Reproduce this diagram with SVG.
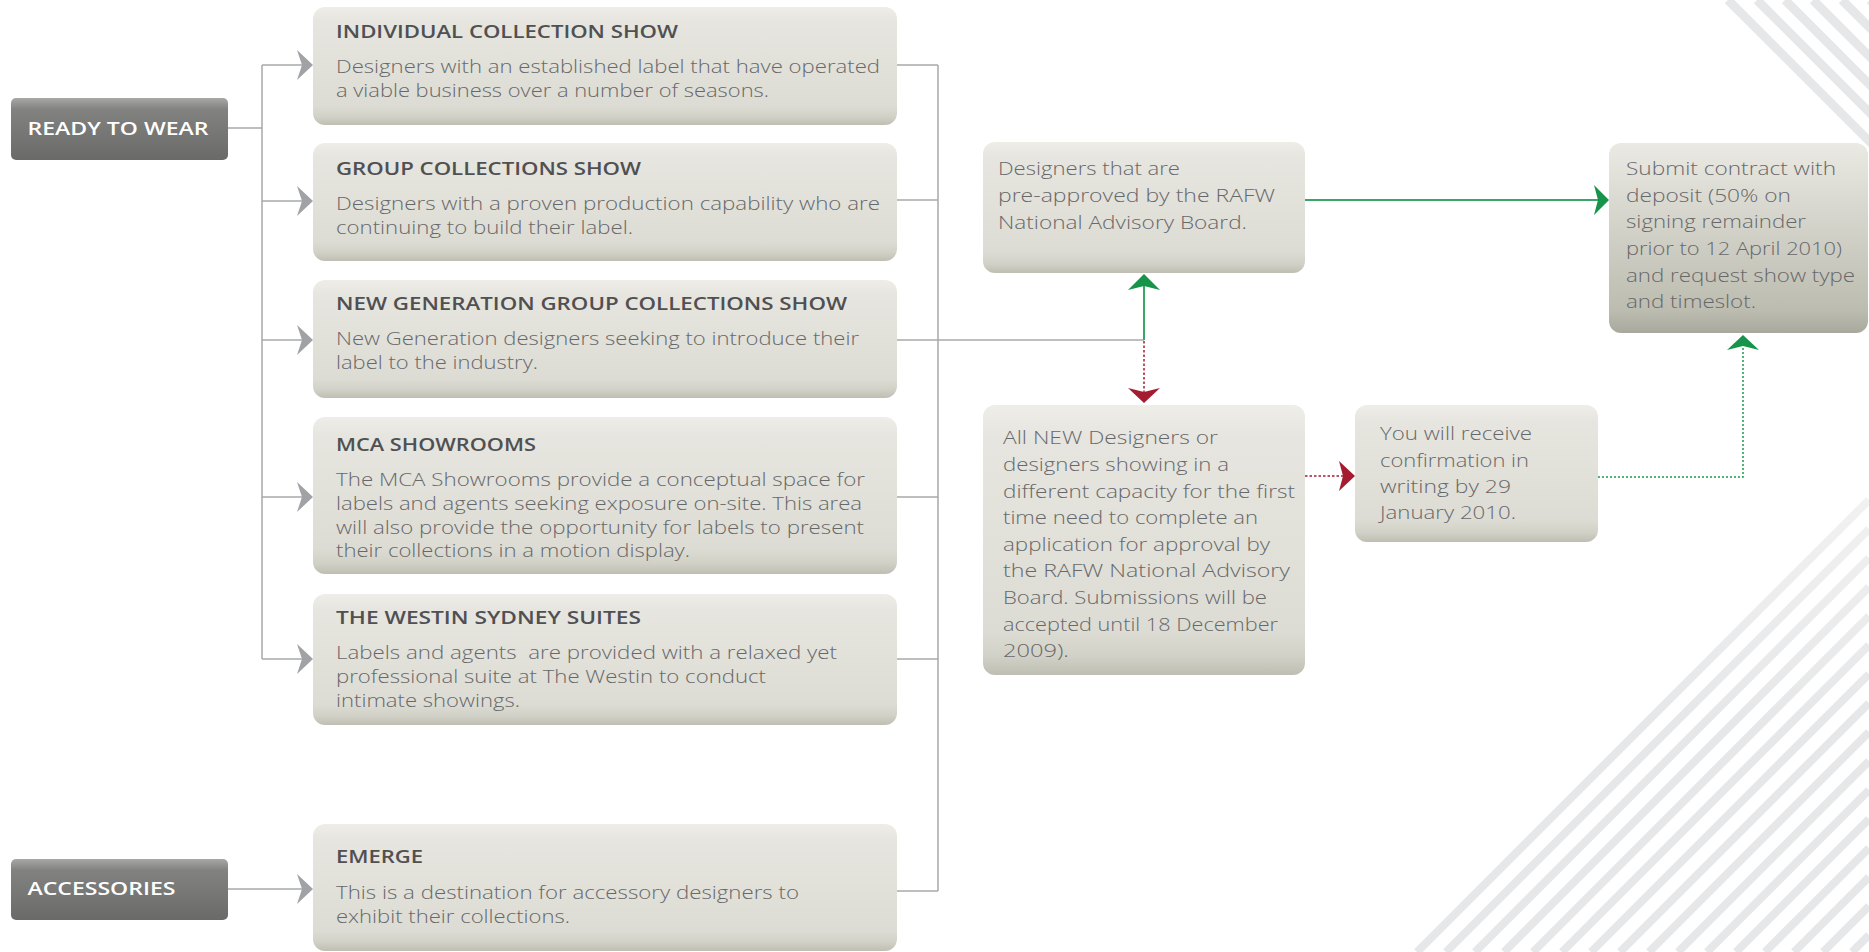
<svg xmlns="http://www.w3.org/2000/svg" width="1869" height="952" viewBox="0 0 1869 952">
<style>
.box{fill:url(#gLight);}
.dark{fill:url(#gDark);}
.sub{fill:url(#gSubmit);}
.tt{font-family:"Open Sans","Liberation Sans",Arial,sans-serif;font-size:18px;font-weight:600;fill:#505052;}
.bd{font-family:"Open Sans","Liberation Sans",Arial,sans-serif;font-size:18px;font-weight:300;fill:#67686a;}
.wt{font-family:"Open Sans","Liberation Sans",Arial,sans-serif;font-size:18px;font-weight:600;fill:#ffffff;}
.gl{fill:none;stroke:#a7a9ac;stroke-width:1.5;}
.ga{fill:#a0a2a5;}
.gs{fill:none;stroke:#3aa567;stroke-width:2;}
.gd{fill:none;stroke:#1a9a4b;stroke-width:1.5;stroke-dasharray:2 2;}
.rd{fill:none;stroke:#a71d31;stroke-width:1.5;stroke-dasharray:2.5 2;}
.gaf{fill:#16944a;}
.raf{fill:#a51c30;}
.st1{stroke:#e6e7e8;stroke-width:9;}
.st2{stroke:url(#gStripe);stroke-width:8;}
</style>
<defs>
<linearGradient id="gLight" x1="0" y1="0" x2="0" y2="1">
<stop offset="0" stop-color="#eeede8"/>
<stop offset="0.12" stop-color="#e6e5df"/>
<stop offset="0.84" stop-color="#dddcd4"/>
<stop offset="0.93" stop-color="#d2d1c7"/>
<stop offset="1" stop-color="#bfbeb2"/>
</linearGradient>
<linearGradient id="gSubmit" x1="0" y1="0" x2="0" y2="1">
<stop offset="0" stop-color="#eae9e3"/>
<stop offset="0.45" stop-color="#d3d2c9"/>
<stop offset="0.88" stop-color="#bdbcb0"/>
<stop offset="1" stop-color="#a9a89c"/>
</linearGradient>
<linearGradient id="gDark" x1="0" y1="0" x2="0" y2="1">
<stop offset="0" stop-color="#a8a8a6"/>
<stop offset="0.18" stop-color="#828280"/>
<stop offset="1" stop-color="#6a6a68"/>
</linearGradient>
<linearGradient id="gStripe" gradientUnits="userSpaceOnUse" x1="0" y1="500" x2="0" y2="720">
<stop offset="0" stop-color="#f1f1f2"/>
<stop offset="1" stop-color="#e6e7e8"/>
</linearGradient>
</defs>

<g id="background">
<line class="st1" x1="1728" y1="0" x2="1928" y2="200"/>
<line class="st1" x1="1757" y1="0" x2="1957" y2="200"/>
<line class="st1" x1="1785" y1="0" x2="1985" y2="200"/>
<line class="st1" x1="1813" y1="0" x2="2013" y2="200"/>
<line class="st1" x1="1842" y1="0" x2="2042" y2="200"/>
<line class="st1" x1="1870" y1="0" x2="2070" y2="200"/>
<line class="st2" x1="1869" y1="500" x2="1417" y2="952"/>
<line class="st2" x1="1869" y1="529" x2="1446" y2="952"/>
<line class="st2" x1="1869" y1="558" x2="1475" y2="952"/>
<line class="st2" x1="1869" y1="587" x2="1504" y2="952"/>
<line class="st2" x1="1869" y1="616" x2="1533" y2="952"/>
<line class="st2" x1="1869" y1="645" x2="1562" y2="952"/>
<line class="st2" x1="1869" y1="674" x2="1591" y2="952"/>
<line class="st2" x1="1869" y1="703" x2="1620" y2="952"/>
<line class="st2" x1="1869" y1="732" x2="1649" y2="952"/>
<line class="st2" x1="1869" y1="761" x2="1678" y2="952"/>
<line class="st2" x1="1869" y1="790" x2="1707" y2="952"/>
<line class="st2" x1="1869" y1="819" x2="1736" y2="952"/>
<line class="st2" x1="1869" y1="848" x2="1765" y2="952"/>
<line class="st2" x1="1869" y1="877" x2="1794" y2="952"/>
<line class="st2" x1="1869" y1="906" x2="1823" y2="952"/>
<line class="st2" x1="1869" y1="935" x2="1852" y2="952"/>
</g>

<g id="connectors">
<path class="gl" d="M228,128 H262 M262,65 V659 M262,65 H302 M262,201 H302 M262,340 H302 M262,497 H302 M262,659 H302 M228,889 H302"/>
<polygon class="ga" points="313,65 297,50 302,65 297,80"/>
<polygon class="ga" points="313,201 297,186 302,201 297,216"/>
<polygon class="ga" points="313,340 297,325 302,340 297,355"/>
<polygon class="ga" points="313,497 297,482 302,497 297,512"/>
<polygon class="ga" points="313,659 297,644 302,659 297,674"/>
<polygon class="ga" points="313,889 297,874 302,889 297,904"/>
<path class="gl" d="M897,65 H938 M897,200 H938 M897,340 H1144 M897,497 H938 M897,659 H938 M897,891 H938 M938,65 V891"/>
<path class="gs" d="M1144,340 V285"/>
<polygon class="gaf" points="1144,274 1160,290 1144,286 1128,290"/>
<path class="gs" d="M1305,200 H1598"/>
<polygon class="gaf" points="1609,200 1594,185 1598,200 1594,215"/>
<path class="rd" d="M1144,341 V392"/>
<polygon class="raf" points="1144,403 1128,388 1144,392 1160,388"/>
<path class="rd" d="M1305,476 H1343"/>
<polygon class="raf" points="1355,476 1339,461 1343,476 1339,491"/>
<path class="gd" d="M1598,477 H1743 V346"/>
<polygon class="gaf" points="1743,335 1727,350 1743,346 1759,350"/>
</g>

<g id="ready-to-wear">
<rect class="dark" x="11" y="98" width="217" height="62" rx="5"/>
<text class="wt" x="27.5" y="135" textLength="181" lengthAdjust="spacingAndGlyphs">READY TO WEAR</text>
</g>

<g id="accessories">
<rect class="dark" x="11" y="859" width="217" height="61" rx="5"/>
<text class="wt" x="27.5" y="895" textLength="148" lengthAdjust="spacingAndGlyphs">ACCESSORIES</text>
</g>

<g id="individual-collection-show">
<rect class="box" x="313" y="7" width="584" height="118" rx="12"/>
<text class="tt" x="336" y="38" textLength="342" lengthAdjust="spacingAndGlyphs">INDIVIDUAL COLLECTION SHOW</text>
<text class="bd" x="336" y="73" textLength="544" lengthAdjust="spacingAndGlyphs">Designers with an established label that have operated</text>
<text class="bd" x="336" y="97" textLength="433" lengthAdjust="spacingAndGlyphs">a viable business over a number of seasons.</text>
</g>

<g id="group-collections-show">
<rect class="box" x="313" y="143" width="584" height="118" rx="12"/>
<text class="tt" x="336" y="175" textLength="305" lengthAdjust="spacingAndGlyphs">GROUP COLLECTIONS SHOW</text>
<text class="bd" x="336" y="210" textLength="544" lengthAdjust="spacingAndGlyphs">Designers with a proven production capability who are</text>
<text class="bd" x="336" y="234" textLength="297" lengthAdjust="spacingAndGlyphs">continuing to build their label.</text>
</g>

<g id="new-generation-group-collections-show">
<rect class="box" x="313" y="280" width="584" height="118" rx="12"/>
<text class="tt" x="336" y="310" textLength="511" lengthAdjust="spacingAndGlyphs">NEW GENERATION GROUP COLLECTIONS SHOW</text>
<text class="bd" x="336" y="345" textLength="523" lengthAdjust="spacingAndGlyphs">New Generation designers seeking to introduce their</text>
<text class="bd" x="336" y="369" textLength="202" lengthAdjust="spacingAndGlyphs">label to the industry.</text>
</g>

<g id="mca-showrooms">
<rect class="box" x="313" y="417" width="584" height="157" rx="12"/>
<text class="tt" x="336" y="451" textLength="200" lengthAdjust="spacingAndGlyphs">MCA SHOWROOMS</text>
<text class="bd" x="336" y="486" textLength="529" lengthAdjust="spacingAndGlyphs">The MCA Showrooms provide a conceptual space for</text>
<text class="bd" x="336" y="510" textLength="526" lengthAdjust="spacingAndGlyphs">labels and agents seeking exposure on-site. This area</text>
<text class="bd" x="336" y="534" textLength="528" lengthAdjust="spacingAndGlyphs">will also provide the opportunity for labels to present</text>
<text class="bd" x="336" y="557" textLength="354" lengthAdjust="spacingAndGlyphs">their collections in a motion display.</text>
</g>

<g id="westin-sydney-suites">
<rect class="box" x="313" y="594" width="584" height="131" rx="12"/>
<text class="tt" x="336" y="624" textLength="305" lengthAdjust="spacingAndGlyphs">THE WESTIN SYDNEY SUITES</text>
<text class="bd" x="336" y="659" textLength="501" lengthAdjust="spacingAndGlyphs" xml:space="preserve">Labels and agents  are provided with a relaxed yet</text>
<text class="bd" x="336" y="683" textLength="430" lengthAdjust="spacingAndGlyphs">professional suite at The Westin to conduct</text>
<text class="bd" x="336" y="707" textLength="184" lengthAdjust="spacingAndGlyphs">intimate showings.</text>
</g>

<g id="emerge">
<rect class="box" x="313" y="824" width="584" height="127" rx="12"/>
<text class="tt" x="336" y="863" textLength="87" lengthAdjust="spacingAndGlyphs">EMERGE</text>
<text class="bd" x="336" y="899" textLength="463" lengthAdjust="spacingAndGlyphs">This is a destination for accessory designers to</text>
<text class="bd" x="336" y="923" textLength="234" lengthAdjust="spacingAndGlyphs">exhibit their collections.</text>
</g>

<g id="pre-approved">
<rect class="box" x="983" y="142" width="322" height="131" rx="12"/>
<text class="bd" x="998" y="175" textLength="182" lengthAdjust="spacingAndGlyphs">Designers that are</text>
<text class="bd" x="998" y="202" textLength="277" lengthAdjust="spacingAndGlyphs">pre-approved by the RAFW</text>
<text class="bd" x="998" y="229" textLength="249" lengthAdjust="spacingAndGlyphs">National Advisory Board.</text>
</g>

<g id="submit-contract">
<rect class="sub" x="1609" y="143" width="259" height="190" rx="12"/>
<text class="bd" x="1626" y="175" textLength="210" lengthAdjust="spacingAndGlyphs">Submit contract with</text>
<text class="bd" x="1626" y="202" textLength="165" lengthAdjust="spacingAndGlyphs">deposit (50% on</text>
<text class="bd" x="1626" y="228" textLength="180" lengthAdjust="spacingAndGlyphs">signing remainder</text>
<text class="bd" x="1626" y="255" textLength="216" lengthAdjust="spacingAndGlyphs">prior to 12 April 2010)</text>
<text class="bd" x="1626" y="282" textLength="229" lengthAdjust="spacingAndGlyphs">and request show type</text>
<text class="bd" x="1626" y="308" textLength="130" lengthAdjust="spacingAndGlyphs">and timeslot.</text>
</g>

<g id="all-new-designers">
<rect class="box" x="983" y="405" width="322" height="270" rx="12"/>
<text class="bd" x="1003" y="444" textLength="215" lengthAdjust="spacingAndGlyphs">All NEW Designers or</text>
<text class="bd" x="1003" y="471" textLength="226" lengthAdjust="spacingAndGlyphs">designers showing in a</text>
<text class="bd" x="1003" y="498" textLength="292" lengthAdjust="spacingAndGlyphs">different capacity for the first</text>
<text class="bd" x="1003" y="524" textLength="255" lengthAdjust="spacingAndGlyphs">time need to complete an</text>
<text class="bd" x="1003" y="551" textLength="267" lengthAdjust="spacingAndGlyphs">application for approval by</text>
<text class="bd" x="1003" y="577" textLength="287" lengthAdjust="spacingAndGlyphs">the RAFW National Advisory</text>
<text class="bd" x="1003" y="604" textLength="264" lengthAdjust="spacingAndGlyphs">Board. Submissions will be</text>
<text class="bd" x="1003" y="631" textLength="275" lengthAdjust="spacingAndGlyphs">accepted until 18 December</text>
<text class="bd" x="1003" y="657" textLength="66" lengthAdjust="spacingAndGlyphs">2009).</text>
</g>

<g id="confirmation">
<rect class="box" x="1355" y="405" width="243" height="137" rx="12"/>
<text class="bd" x="1380" y="440" textLength="152" lengthAdjust="spacingAndGlyphs">You will receive</text>
<text class="bd" x="1380" y="467" textLength="149" lengthAdjust="spacingAndGlyphs">confirmation in</text>
<text class="bd" x="1380" y="493" textLength="131" lengthAdjust="spacingAndGlyphs">writing by 29</text>
<text class="bd" x="1380" y="519" textLength="136" lengthAdjust="spacingAndGlyphs">January 2010.</text>
</g>
</svg>
